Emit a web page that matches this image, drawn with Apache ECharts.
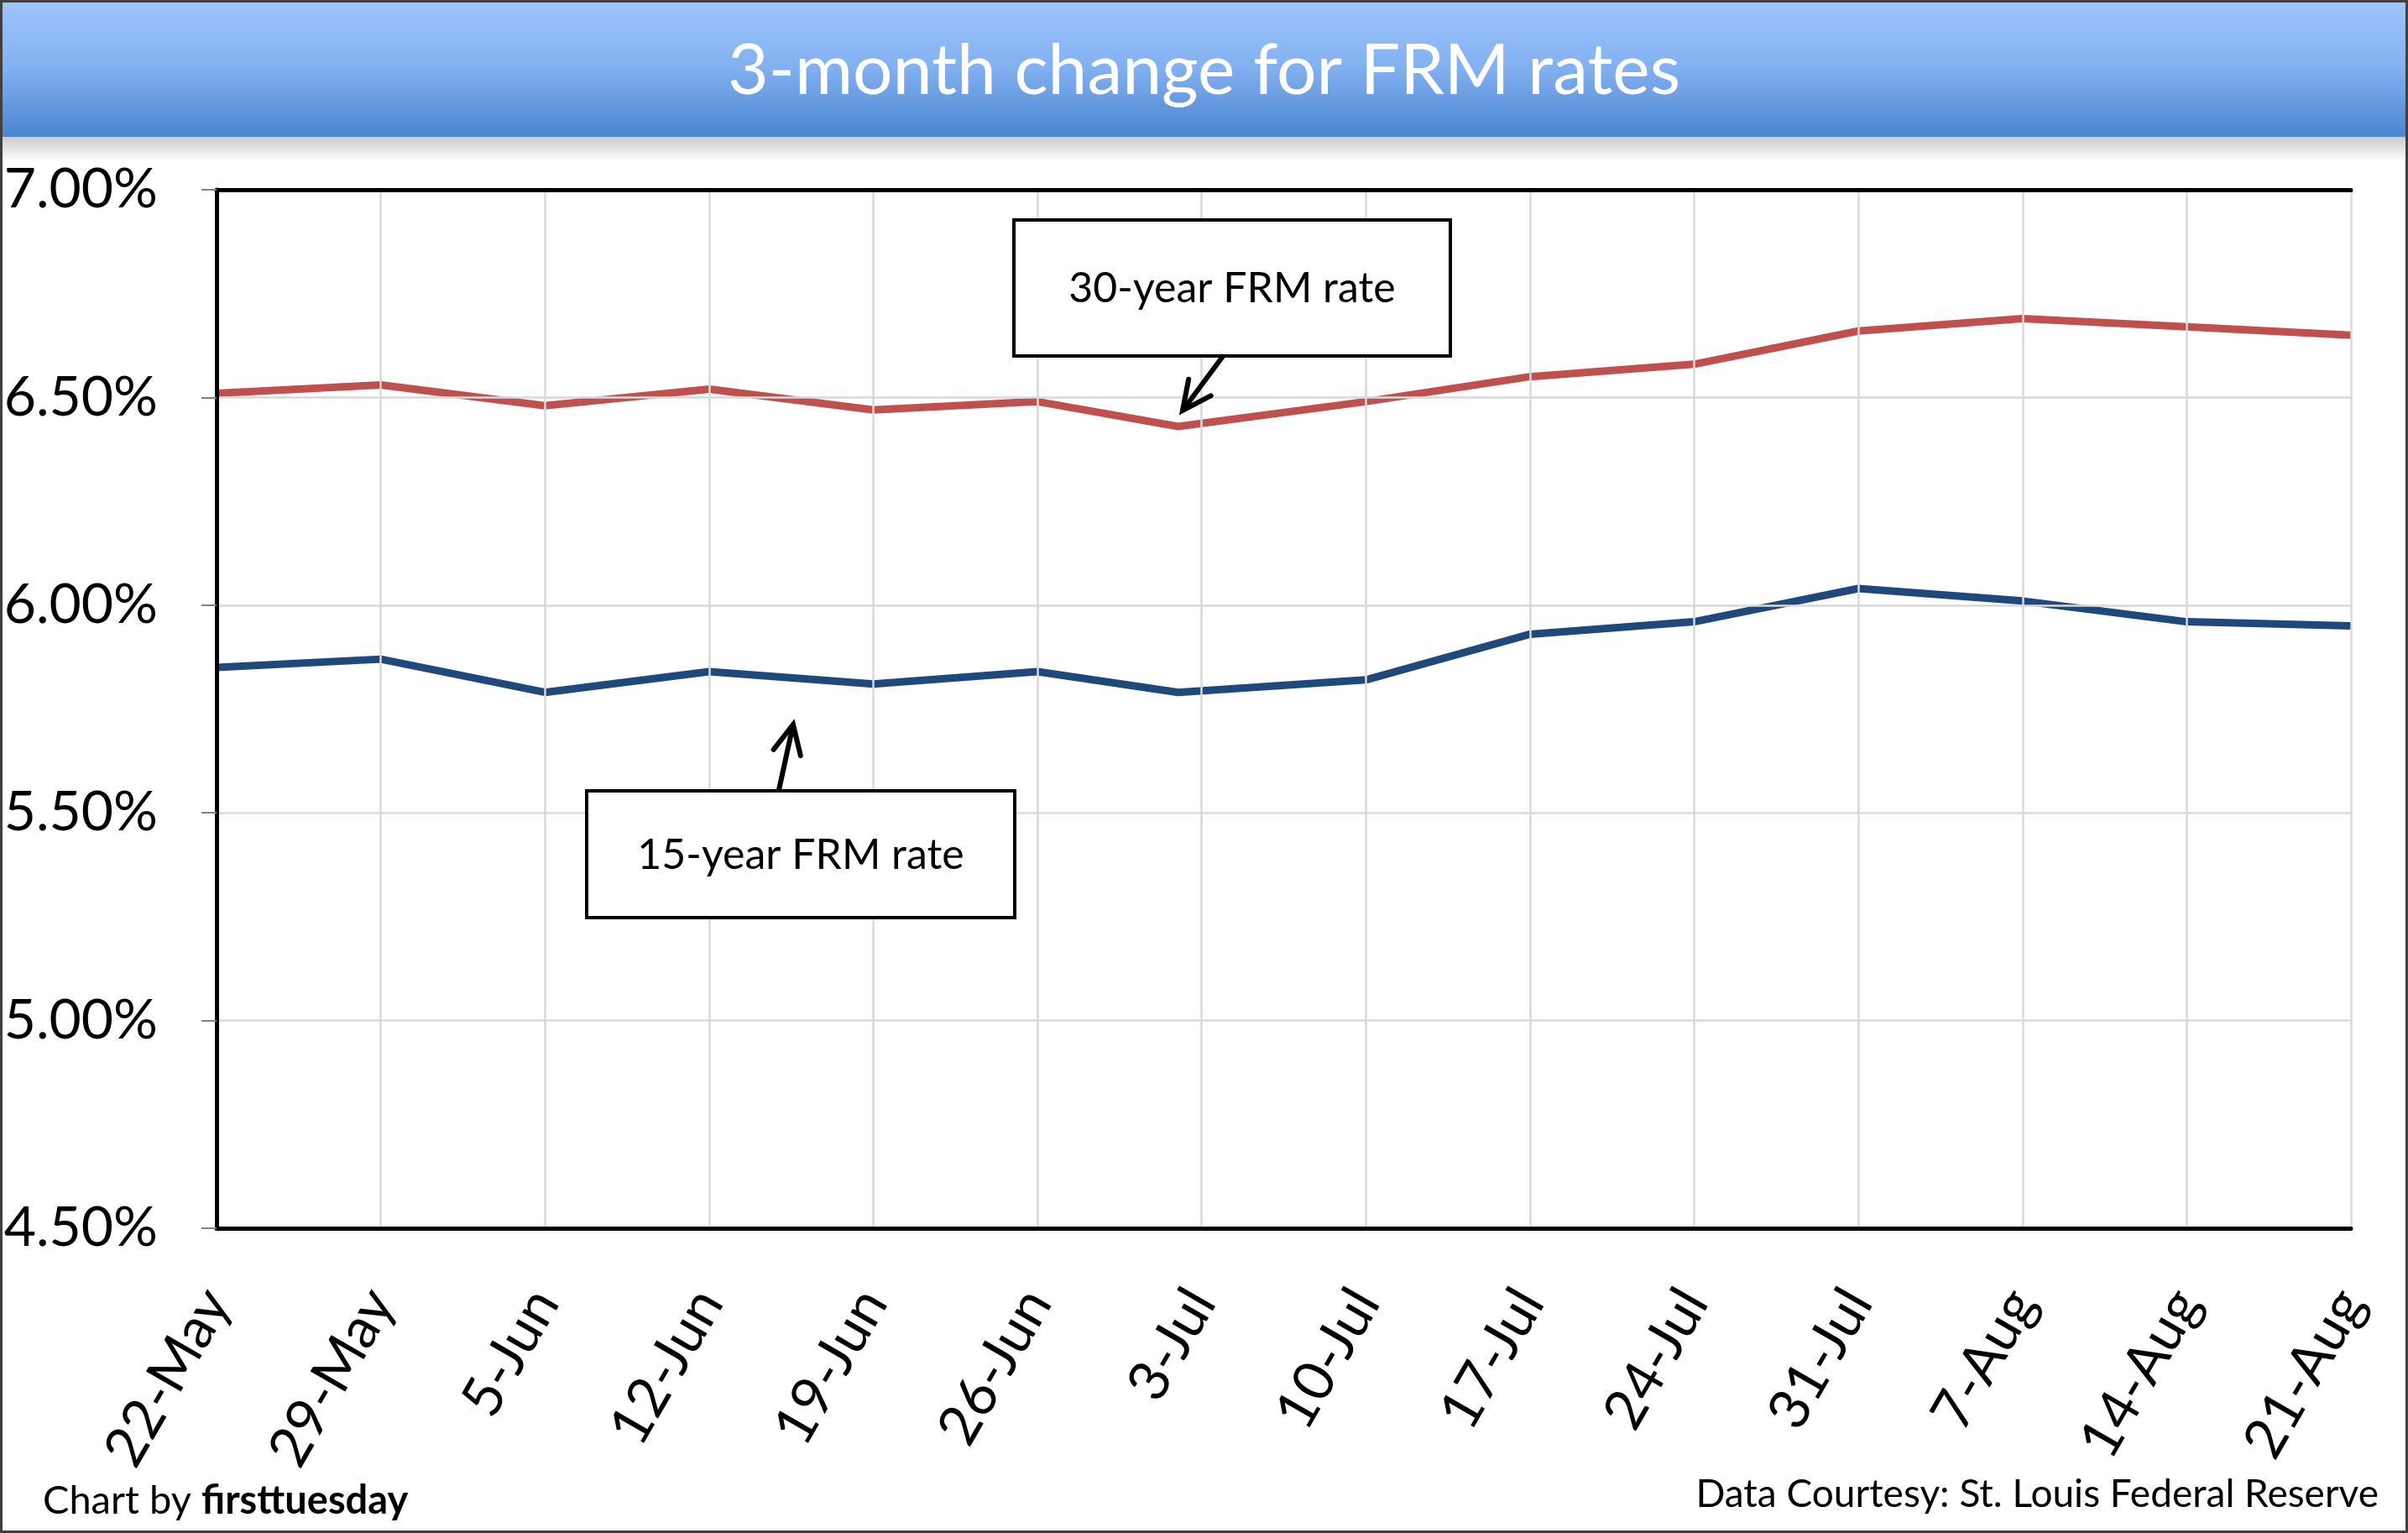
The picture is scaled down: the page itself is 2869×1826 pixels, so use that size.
<!DOCTYPE html>
<html>
<head>
<meta charset="utf-8">
<title>3-month change for FRM rates</title>
<script src="https://cdn.jsdelivr.net/npm/echarts@6/dist/echarts.min.js"></script>
<style>
  html, body { margin: 0; padding: 0; background: #fff; }
  #frm-chart { width: 2869px; height: 1826px; }
</style>
</head>
<body>
<div id="frm-chart"></div>
<script>
// Weekly release dates (the 3-Jul release came out a day early)
const releaseDates = ["2025-05-22", "2025-05-29", "2025-06-05", "2025-06-12", "2025-06-19", "2025-06-26", "2025-07-02",
  "2025-07-10", "2025-07-17", "2025-07-24", "2025-07-31", "2025-08-07", "2025-08-14", "2025-08-21"];
const tickLabels = ["22-May", "29-May", "5-Jun", "12-Jun", "19-Jun", "26-Jun", "3-Jul",
  "10-Jul", "17-Jul", "24-Jul", "31-Jul", "7-Aug", "14-Aug", "21-Aug"];
const rate30 = [6.51, 6.53, 6.48, 6.52, 6.47, 6.49, 6.43, 6.49, 6.55, 6.58, 6.66, 6.69, 6.67, 6.65];
const rate15 = [5.85, 5.87, 5.79, 5.84, 5.81, 5.84, 5.79, 5.82, 5.93, 5.96, 6.04, 6.01, 5.96, 5.95];

document.addEventListener("DOMContentLoaded", function () {
  const DAY = 24 * 3600 * 1000;
  const start = Date.parse(releaseDates[0]);

  // days since the first tick, so the x axis can run on a plain value scale
  const dayOffset = (d) => Math.round((Date.parse(d) - start) / DAY);
  const toPoints = (values) => values.map((v, i) => [dayOffset(releaseDates[i]), v]);
  const lastDay = dayOffset(releaseDates[releaseDates.length - 1]);

  const font = "Lato";

  // Simple open arrow: shaft + V head
  const arrow = (x1, y1, x2, y2) => {
    const ang = Math.atan2(y2 - y1, x2 - x1);
    const len = 38;
    const spread = Math.PI / 7;
    const a = [x2 - len * Math.cos(ang - spread), y2 - len * Math.sin(ang - spread)];
    const b = [x2 - len * Math.cos(ang + spread), y2 - len * Math.sin(ang + spread)];
    return [
      { type: "line", z: 100, shape: { x1, y1, x2, y2 }, style: { stroke: "#000", lineWidth: 6 } },
      {
        type: "polyline", z: 100,
        shape: { points: [a, [x2, y2], b] },
        style: { stroke: "#000", lineWidth: 6, fill: null, lineCap: "round" },
      },
    ];
  };

  const noteBox = (x, y, w, h, text) => [
    {
      type: "rect", z: 100,
      shape: { x, y, width: w, height: h },
      style: { fill: "#fff", stroke: "#000", lineWidth: 4 },
    },
    {
      type: "text", z: 101,
      style: {
        text, x: x + w / 2, y: y + h / 2 + 1,
        align: "center", verticalAlign: "middle",
        fontSize: 50, fontFamily: font, fill: "#000",
      },
    },
  ];

  // frame axes: only a black line, no labels
  const frameLine = (width) => ({ show: true, lineStyle: { color: "#000", width } });

  const option = {
    animation: false,
    backgroundColor: "#fff",
    title: {
      text: "3-month change for FRM rates",
      left: "center",
      top: 38,
      z: 10,
      textStyle: { color: "#fff", fontSize: 84, fontWeight: "normal", fontFamily: font },
    },
    grid: {
      left: 258, right: 68, top: 226, bottom: 363,
    },
    xAxis: [
      {
        type: "value",
        min: 0,
        max: lastDay,
        interval: 7,
        axisLine: frameLine(5),
        axisTick: { show: false },
        splitLine: { show: true, lineStyle: { color: "#d9d9d9", width: 2.5 } },
        axisLabel: {
          rotate: 60,
          margin: 78,
          color: "#000",
          fontSize: 67,
          fontFamily: font,
          showMinLabel: true,
          showMaxLabel: true,
          formatter: (v) => tickLabels[Math.round(v / 7)] || "",
        },
        z: 6,
      },
      {
        type: "value",
        position: "top",
        min: 0,
        max: lastDay,
        interval: 7,
        axisLine: frameLine(5),
        axisTick: { show: false },
        axisLabel: { show: false },
        splitLine: { show: false },
        z: 6,
      },
    ],
    yAxis: [
      {
        type: "value",
        min: 4.5,
        max: 7,
        interval: 0.5,
        axisLine: frameLine(4),
        axisTick: { show: true, length: 18, lineStyle: { color: "#808080", width: 2 } },
        splitLine: { show: true, lineStyle: { color: "#d9d9d9", width: 2.5 } },
        axisLabel: {
          margin: 70,
          color: "#000",
          fontSize: 66,
          fontFamily: font,
          formatter: (v) => v.toFixed(2) + "%",
        },
        z: 6,
      },
      {
        type: "value",
        position: "right",
        min: 4.5,
        max: 7,
        interval: 0.5,
        axisLine: frameLine(5),
        axisTick: { show: false },
        axisLabel: { show: false },
        splitLine: { show: false },
        z: 6,
      },
    ],
    series: [
      {
        name: "30-year FRM rate",
        type: "line",
        data: toPoints(rate30),
        showSymbol: false,
        lineStyle: { color: "#C0504D", width: 9, join: "round" },
        z: 5,
      },
      {
        name: "15-year FRM rate",
        type: "line",
        data: toPoints(rate15),
        showSymbol: false,
        lineStyle: { color: "#1F497D", width: 9, join: "round" },
        z: 5,
      },
    ],
    graphic: [
      // title banner
      {
        type: "rect", z: -10,
        shape: { x: 0, y: 0, width: 2869, height: 163 },
        style: {
          fill: new echarts.graphic.LinearGradient(0, 0, 0, 1, [
            { offset: 0, color: "#9ec5ff" },
            { offset: 0.5, color: "#82b0f0" },
            { offset: 1, color: "#4a84ce" },
          ]),
        },
      },
      {
        type: "rect", z: -10,
        shape: { x: 0, y: 163, width: 2869, height: 30 },
        style: {
          fill: new echarts.graphic.LinearGradient(0, 0, 0, 1, [
            { offset: 0, color: "rgba(0,0,0,0.2)" },
            { offset: 1, color: "rgba(0,0,0,0)" },
          ]),
        },
      },
      {
        type: "rect", z: -9,
        shape: { x: 0, y: 0, width: 2869, height: 3 },
        style: { fill: "#1c2f4d" },
      },
      // annotations
      ...noteBox(1208, 262, 520, 162, "30-year FRM rate"),
      ...arrow(1458, 423, 1409, 489),
      ...noteBox(699, 942, 510, 151, "15-year FRM rate"),
      ...arrow(928, 941, 945, 863),
      // footer
      {
        type: "text", z: 50,
        style: {
          text: "{a|Chart by }{b|firsttuesday}",
          x: 51, y: 1788, verticalAlign: "middle",
          rich: {
            a: { fontSize: 47, fontFamily: font, fill: "#000" },
            b: { fontSize: 47, fontFamily: font, fontWeight: "bold", fill: "#000" },
          },
        },
      },
      {
        type: "text", z: 50,
        style: {
          text: "Data Courtesy: St. Louis Federal Reserve",
          x: 2834, y: 1780, align: "right", verticalAlign: "middle",
          fontSize: 46, fontFamily: font, fill: "#000",
        },
      },
      // outer frame
      {
        type: "rect", z: 200,
        shape: { x: 1.5, y: 1.5, width: 2866, height: 1823 },
        style: { fill: null, stroke: "#3f3f3f", lineWidth: 3 },
      },
    ],
  };

  const chart = echarts.init(document.getElementById("frm-chart"));
  chart.setOption(option);
  window.addEventListener("resize", () => chart.resize());
});
</script>
</body>
</html>
